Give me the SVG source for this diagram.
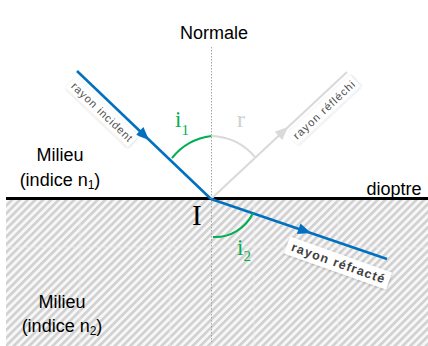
<svg xmlns="http://www.w3.org/2000/svg" width="428" height="346" viewBox="0 0 428 346">
  <defs>
    <pattern id="hatch" patternUnits="userSpaceOnUse" width="5.5" height="5.5" patternTransform="rotate(45)">
      <rect width="5.5" height="5.5" fill="#f7f7f7"/>
      <rect width="2.6" height="5.5" fill="#d0d0d0"/>
    </pattern>
    <path id="arrow" d="M0,0 L-13,-5.5 L-13,5.5 Z"/>
    <filter id="shadow" x="-20%" y="-50%" width="140%" height="200%">
      <feDropShadow dx="0.5" dy="0.5" stdDeviation="0.8" flood-color="#000" flood-opacity="0.25"/>
    </filter>
  </defs>
  <style>
    .sans { font-family: "Liberation Sans", Arial, sans-serif; fill: #000; }
    .lbl { font-size: 18px; }
    .math { font-family: "Liberation Serif", "Times New Roman", serif; }
    .green { fill: #00B050; }
    .ray-lbl { font-family: "Liberation Sans", Arial, sans-serif; font-size: 11px; fill: #505050; }
    .grid { stroke: #ececec; stroke-width: 1; }
  </style>

  <rect width="428" height="346" fill="#ffffff"/>

  <g id="medium2">
    <rect x="6" y="199" width="422" height="147" fill="url(#hatch)"/>
    <g class="grid" opacity="0.7">
      <line x1="80" y1="200" x2="80" y2="346"/>
      <line x1="170" y1="200" x2="170" y2="346"/>
      <line x1="254" y1="200" x2="254" y2="346"/>
      <line x1="338" y1="200" x2="338" y2="346"/>
      <line x1="6" y1="247" x2="428" y2="247"/>
    </g>
    <text class="sans lbl" x="62" y="308" text-anchor="middle">Milieu</text>
    <text class="sans lbl" x="62" y="332" text-anchor="middle">(indice n<tspan font-size="12" dy="3">2</tspan><tspan dy="-3">)</tspan></text>
  </g>

  <g id="medium1">
    <text class="sans lbl" x="60" y="161" text-anchor="middle">Milieu</text>
    <text class="sans lbl" x="60" y="186" text-anchor="middle">(indice n<tspan font-size="12" dy="3">1</tspan><tspan dy="-3">)</tspan></text>
  </g>

  <g id="normal">
    <line x1="211.5" y1="47" x2="211.5" y2="342" stroke="#a6a6a6" stroke-width="1" stroke-dasharray="1.5 1.5"/>
    <text class="sans lbl" x="214" y="39" text-anchor="middle" font-size="18.5">Normale</text>
  </g>

  <g id="dioptre">
    <line x1="6" y1="198.5" x2="428" y2="198.5" stroke="#000" stroke-width="3"/>
    <text class="sans lbl" x="394" y="195" text-anchor="middle" font-size="19">dioptre</text>
  </g>

  <g id="connectors">
    <!-- incident ray -->
    <line x1="77" y1="71" x2="211" y2="199" stroke="#0070C0" stroke-width="2.5"/>
    <use href="#arrow" fill="#0070C0" transform="translate(149,140) rotate(43.7)"/>
    <!-- reflected ray -->
    <line x1="211" y1="199" x2="347" y2="72" stroke="#d9d9d9" stroke-width="2"/>
    <use href="#arrow" fill="#d9d9d9" transform="translate(288,127) rotate(-43)"/>
    <!-- refracted ray -->
    <line x1="211" y1="199" x2="387" y2="259" stroke="#0070C0" stroke-width="2.5"/>
    <use href="#arrow" fill="#0070C0" transform="translate(311,233) rotate(18.8)"/>
    <!-- angle arcs -->
    <path d="M211.5,136 A60,60 0 0 0 172,158" fill="none" stroke="#00B050" stroke-width="2"/>
    <path d="M211.5,136 A60,60 0 0 1 255,157" fill="none" stroke="#d9d9d9" stroke-width="2"/>
    <path d="M213,237 A42,42 0 0 0 253,213" fill="none" stroke="#00B050" stroke-width="2"/>
  </g>

  <g id="label-incident" transform="translate(102,112) rotate(43.7)">
    <rect x="-43" y="-7.5" width="86" height="15" fill="#fff" filter="url(#shadow)" opacity="0.9"/>
    <text class="ray-lbl" x="0" y="3.8" text-anchor="middle" textLength="80">rayon incident</text>
  </g>

  <g id="label-reflechi" transform="translate(324,110) rotate(-43)">
    <rect x="-43" y="-7.5" width="86" height="15" fill="#fff" filter="url(#shadow)" opacity="0.9"/>
    <text class="ray-lbl" x="0" y="3.8" text-anchor="middle" textLength="80">rayon réfléchi</text>
  </g>

  <g id="label-refracte" transform="translate(338,263) rotate(19.5)">
    <rect x="-54" y="-9" width="108" height="18" fill="#fff" filter="url(#shadow)"/>
    <text x="0" y="4.2" text-anchor="middle" font-family="Liberation Sans, Arial, sans-serif" font-size="12.5" font-weight="bold" fill="#404040" textLength="98">rayon réfracté</text>
  </g>

  <g id="point-I">
    <text class="math" x="192" y="225" font-size="29" fill="#000">I</text>
  </g>

  <g id="angle-i1">
    <text class="math green" x="175" y="127" font-size="23">i<tspan font-size="15" dy="8">1</tspan></text>
  </g>
  <g id="angle-r">
    <text class="math" x="237" y="127" font-size="24" fill="#d0d0d0">r</text>
  </g>
  <g id="angle-i2">
    <text class="math green" x="237" y="255" font-size="23">i<tspan font-size="15" dy="6">2</tspan></text>
  </g>
</svg>
